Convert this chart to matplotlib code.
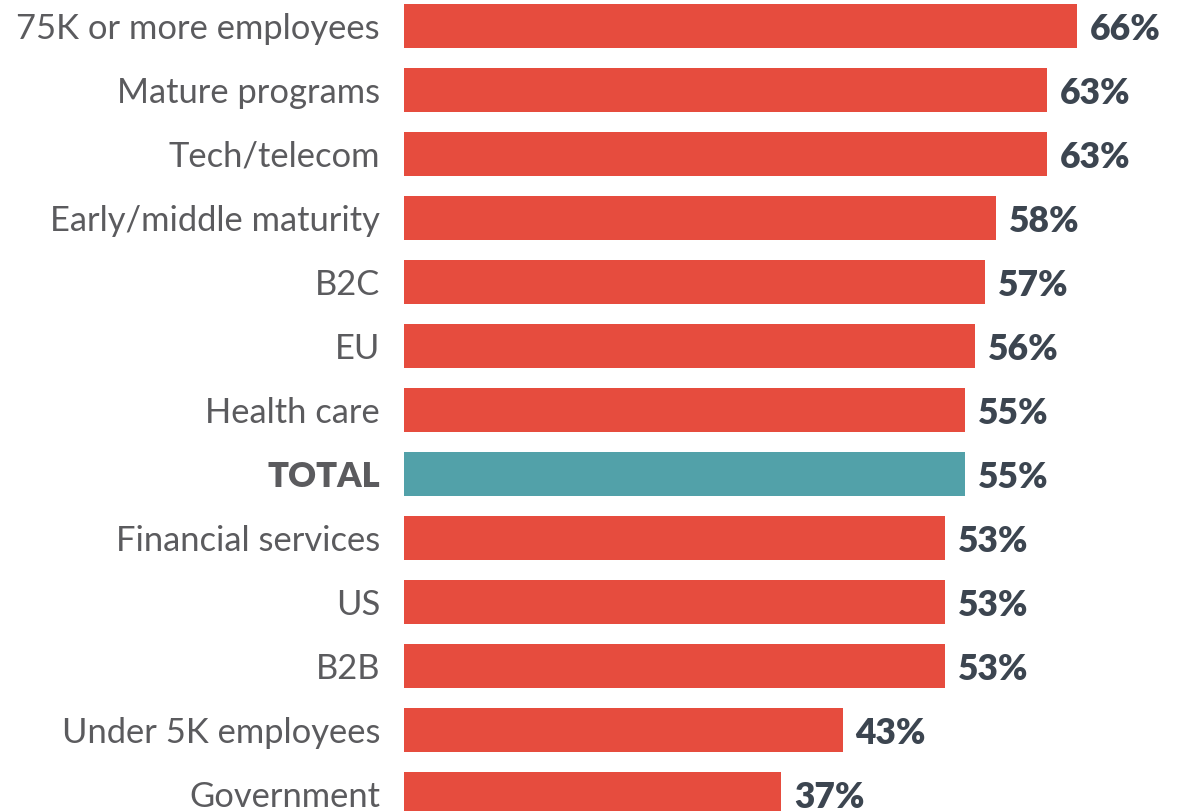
import matplotlib.pyplot as plt
from matplotlib.transforms import offset_copy

categories = ['75K or more employees', 'Mature programs', 'Tech/telecom',
              'Early/middle maturity', 'B2C', 'EU', 'Health care', 'TOTAL',
              'Financial services', 'US', 'B2B', 'Under 5K employees', 'Government']
values = [66, 63, 63, 58, 57, 56, 55, 55, 53, 53, 53, 43, 37]
highlight = 'TOTAL'

red = '#E64C3E'
teal = '#52A1A9'
label_col = '#5B5B5E'
value_col = '#3C4550'

W, H = 1187, 811
fig = plt.figure(figsize=(W / 100, H / 100), dpi=100)
left = 404 / W
ax = fig.add_axes([left, 0, 1 - left, 1])

colors = [teal if c == highlight else red for c in categories]
ypos = list(range(len(categories)))
ax.barh(ypos, values, height=0.69, color=colors)

# scale: ~10.2 px per percent, rows 64 px apart
ax.set_xlim(0, (W - 404) / 10.2)
ax.set_ylim((H - 26) / 64, -26 / 64)
ax.axis('off')

lab_tr = offset_copy(ax.transData, fig=fig, x=-24, y=-3, units='dots')
val_tr = offset_copy(ax.transData, fig=fig, x=13, y=-3, units='dots')
for y, c, v in zip(ypos, categories, values):
    bold = c == highlight
    ax.text(0, y, c, transform=lab_tr, ha='right', va='center',
            fontsize=24.8, family='Lato', color=label_col,
            fontweight='heavy' if bold else 'normal', clip_on=False)
    ax.text(v, y, f'{v}%', transform=val_tr, ha='left', va='center',
            fontsize=25.5, family='Lato', fontweight='heavy', color=value_col,
            clip_on=False)

fig.savefig('out.png', dpi=100)
